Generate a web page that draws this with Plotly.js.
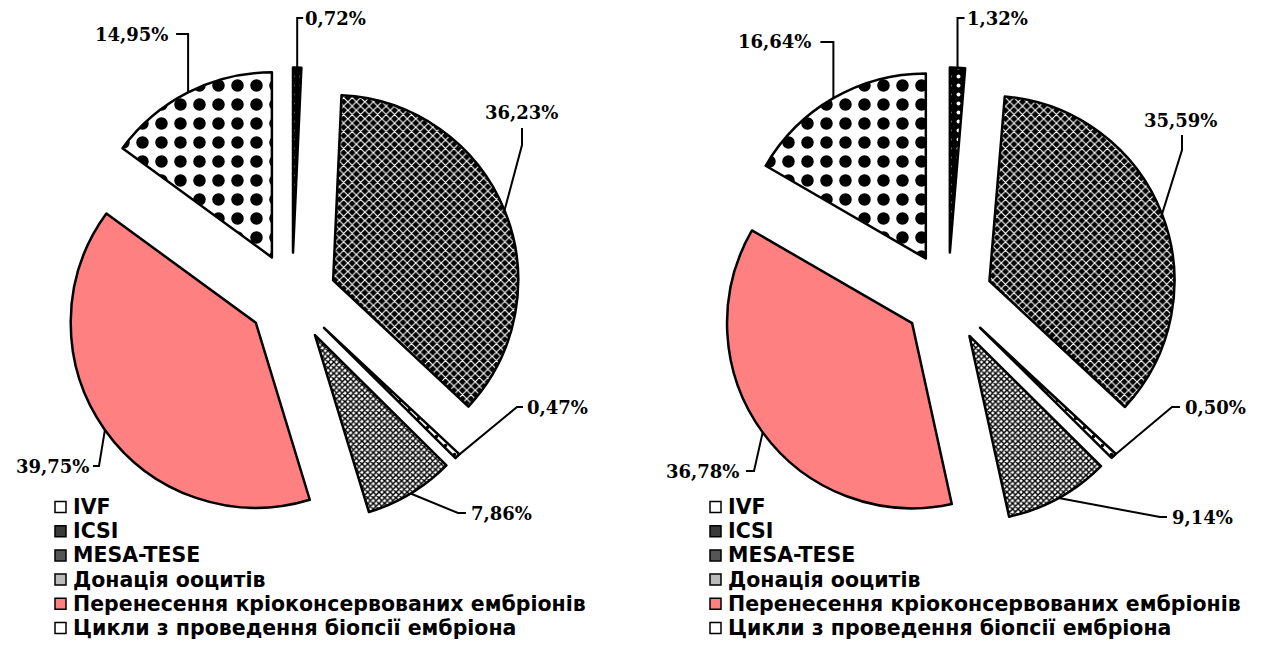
<!DOCTYPE html>
<html><head><meta charset="utf-8">
<script src="https://cdn.plot.ly/plotly-3.0.1.min.js"></script>
<style>html,body{margin:0;padding:0;background:#fff}</style>
</head><body><div id="chart" style="width:1266px;height:653px"></div>
<script>
// ---- data (legend order) ----
const legendLabels = ['IVF', 'ICSI', 'MESA-TESE', 'Донація ооцитів',
  'Перенесення кріоконсервованих ембріонів', 'Цикли з проведення біопсії ембріона'];
const valuesLeft = [14.95, 36.23, 0.72, 7.86, 39.75, 0.47];
const valuesRight = [16.64, 35.59, 1.32, 9.14, 36.78, 0.50];
// clockwise order of the slices from 12 o'clock (indices into legendLabels)
const sliceOrder = [2, 1, 5, 3, 4, 0];

// ---- styles (legend order) ----
const patShape = ['.', 'x', '.', 'x', '', '.'];
const patBg = ['#ffffff', '#000000', '#000000', '#ffffff', '#FF8080', '#ffffff'];
const patFg = ['#000000', '#ffffff', '#ffffff', '#000000', '#FF8080', '#000000'];
const patSize = [19, 6, 9, 4, 8, 9];
const patSolid = [0.34, 0.35, 0.15, 0.6, 0.3, 0.12];
const baseColor = ['#ffffff', '#333333', '#222222', '#aaaaaa', '#FF8080', '#ffffff'];
const iconColor = ['#ffffff', '#3a3a3a', '#555555', '#bbbbbb', '#FF8080', '#ffffff'];

const W = 1266, H = 653;
const PULL = 0.24;
const px = x => x / W;
const py = y => 1 - y / H;

const pies = [
  {values: valuesLeft, x0: 62.5, x1: 521.5, y0: 67.5, y1: 526.5},
  {values: valuesRight, x0: 718.5, x1: 1177.5, y0: 67.5, y1: 526.5}
];

// label layout (legend order): text position/anchor, leader elbow and end
const labelLayout = [
  [
    {tx: 170, ty: 34, xa: 'right', ex: 'v', ey: 34, dx: -12},
    {tx: 521, ty: 113, xa: 'center', ex: 522, ey: 145, Tx: 522, Ty: 128},
    {tx: 303, ty: 18, xa: 'left', ex: 'v', ey: 18, dx: 6},
    {tx: 469, ty: 513, xa: 'left', ex: 458, ey: 513, Tx: 466, Ty: 513},
    {tx: 91, ty: 466, xa: 'right', ex: 99, ey: 466, Tx: 93, Ty: 466},
    {tx: 525, ty: 407, xa: 'left', ex: 517, ey: 407, Tx: 523, Ty: 407}
  ],
  [
    {tx: 813, ty: 42, xa: 'right', ex: 'v', ey: 42, dx: -13},
    {tx: 1180, ty: 120, xa: 'center', ex: 1182, ey: 150, Tx: 1182, Ty: 135},
    {tx: 965, ty: 18, xa: 'left', ex: 'v', ey: 18, dx: 7},
    {tx: 1170, ty: 517, xa: 'left', ex: 1160, ey: 517, Tx: 1167, Ty: 517},
    {tx: 741, ty: 471, xa: 'right', ex: 754, ey: 471, Tx: 746, Ty: 471},
    {tx: 1183, ty: 407, xa: 'left', ex: 1172, ey: 407, Tx: 1180, Ty: 407}
  ]
];

const legendPos = [{ix: 55, tx: 71}, {ix: 710, tx: 726}];
const legendY0 = 507, legendStep = 24.2;
const legendFont = {family: 'DejaVu Sans', size: 20.5, color: '#000000', weight: 700};
const labelFont = {family: 'DejaVu Serif', size: 18, color: '#000000', weight: 700};

const traces = [];
const shapes = [];
const annotations = [];

pies.forEach((p, k) => {
  const ordered = sliceOrder.map(i => p.values[i]);
  traces.push({
    type: 'pie',
    values: ordered,
    labels: sliceOrder.map(i => legendLabels[i]),
    sort: false,
    direction: 'clockwise',
    rotation: 0,
    pull: PULL,
    textinfo: 'none',
    hoverinfo: 'label+percent',
    showlegend: false,
    domain: {x: [px(p.x0), px(p.x1)], y: [py(p.y1), py(p.y0)]},
    marker: {
      colors: sliceOrder.map(i => baseColor[i]),
      line: {color: '#000000', width: 2.5},
      pattern: {
        shape: sliceOrder.map(i => patShape[i]),
        bgcolor: sliceOrder.map(i => patBg[i]),
        fgcolor: sliceOrder.map(i => patFg[i]),
        size: sliceOrder.map(i => patSize[i]),
        solidity: sliceOrder.map(i => patSolid[i]),
        fillmode: 'replace'
      }
    }
  });

  const cx = (p.x0 + p.x1) / 2, cy = (p.y0 + p.y1) / 2;
  const R = Math.min(p.x1 - p.x0, p.y1 - p.y0) / 2 / (1 + PULL);
  const total = p.values.reduce((a, b) => a + b, 0);
  let cum = 0;
  const midAngle = {};
  sliceOrder.forEach(i => {
    const v = p.values[i];
    midAngle[i] = (cum + v / 2) / total * 2 * Math.PI;
    cum += v;
  });

  legendLabels.forEach((lab, i) => {
    const a = midAngle[i];
    const ax = cx + (R + R * PULL) * Math.sin(a);
    const ay = cy - (R + R * PULL) * Math.cos(a);
    const L = labelLayout[k][i];
    const ex = L.ex === 'v' ? ax : L.ex;
    const Tx = L.ex === 'v' ? ax + L.dx : L.Tx;
    const Ty = L.ex === 'v' ? L.ey : L.Ty;
    shapes.push({
      type: 'path', xref: 'paper', yref: 'paper',
      path: `M${px(ax)},${py(ay)} L${px(ex)},${py(L.ey)} L${px(Tx)},${py(Ty)}`,
      line: {color: '#000000', width: 2}
    });
    annotations.push({
      xref: 'paper', yref: 'paper', x: px(L.tx), y: py(L.ty),
      xanchor: L.xa, yanchor: 'middle', showarrow: false,
      text: p.values[i].toFixed(2).replace('.', ',') + '%',
      font: labelFont
    });

    const lp = legendPos[k];
    const yy = legendY0 + i * legendStep;
    shapes.push({
      type: 'rect', xref: 'paper', yref: 'paper',
      x0: px(lp.ix), x1: px(lp.ix + 11), y0: py(yy - 5.5), y1: py(yy + 5.5),
      fillcolor: iconColor[i], line: {color: '#000000', width: 1.5}
    });
    annotations.push({
      xref: 'paper', yref: 'paper', x: px(lp.tx), y: py(yy),
      xanchor: 'left', yanchor: 'middle', showarrow: false,
      text: lab,
      font: legendFont
    });
  });
});

const layout = {
  width: W, height: H,
  margin: {l: 0, r: 0, t: 0, b: 0},
  paper_bgcolor: '#ffffff',
  plot_bgcolor: '#ffffff',
  showlegend: false,
  shapes: shapes,
  annotations: annotations
};

Plotly.newPlot('chart', traces, layout, {displayModeBar: false, staticPlot: true});
</script>
</body></html>
